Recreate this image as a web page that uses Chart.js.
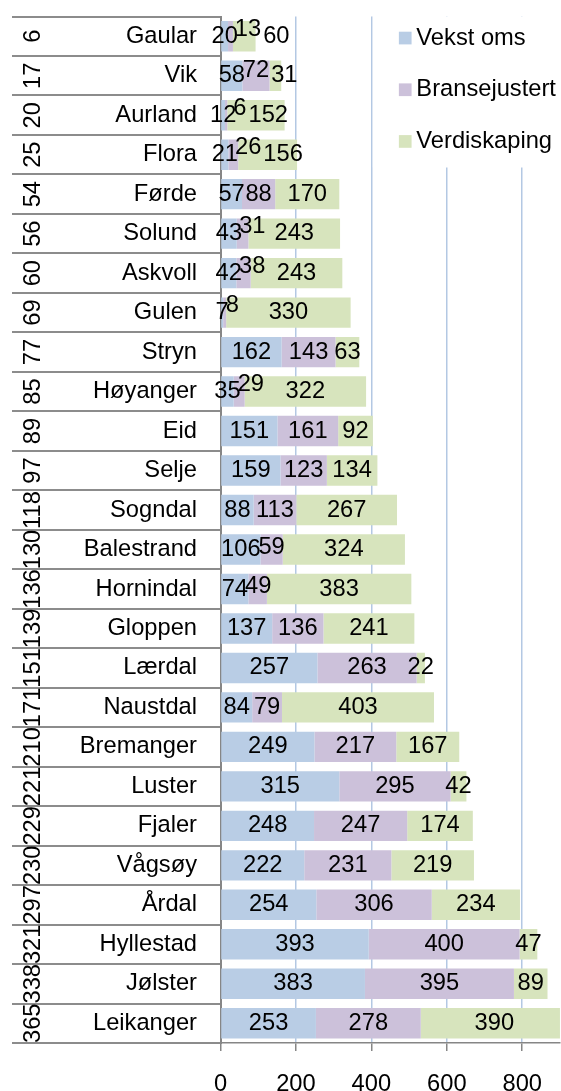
<!DOCTYPE html>
<html lang="no">

<head>
    <meta charset="UTF-8">
    <title>Kommuner - vekst, bransejustert og verdiskaping</title>
    <script src="https://cdn.jsdelivr.net/npm/chart.js@4.4.1/dist/chart.umd.min.js"></script>
    <style>
        html, body { margin: 0; padding: 0; background: #fff; }
        canvas { display: block; }
    </style>
</head>

<body>
    <canvas id="chart" width="561" height="1091"></canvas>
    <script>
        // Data, top row first
        const kommuner = ["Gaular", "Vik", "Aurland", "Flora", "Førde", "Solund", "Askvoll", "Gulen", "Stryn",
            "Høyanger", "Eid", "Selje", "Sogndal", "Balestrand", "Hornindal", "Gloppen", "Lærdal", "Naustdal",
            "Bremanger", "Luster", "Fjaler", "Vågsøy", "Årdal", "Hyllestad", "Jølster", "Leikanger"];
        const rangering = [6, 17, 20, 25, 54, 56, 60, 69, 77, 85, 89, 97, 118, 130, 136, 139, 151, 171,
            210, 221, 229, 230, 297, 321, 338, 365];
        const vekstOms = [20, 58, 12, 21, 57, 43, 42, 7, 162, 35, 151, 159, 88, 106, 74, 137, 257, 84,
            249, 315, 248, 222, 254, 393, 383, 253];
        const bransejustert = [13, 72, 6, 26, 88, 31, 38, 8, 143, 29, 161, 123, 113, 59, 49, 136, 263, 79,
            217, 295, 247, 231, 306, 400, 395, 278];
        const verdiskaping = [60, 31, 152, 156, 170, 243, 243, 330, 63, 322, 92, 134, 267, 324, 383, 241, 22, 403,
            167, 42, 174, 219, 234, 47, 89, 390];
        const xTicks = [0, 200, 400, 600, 800];

        const FONT = { family: "'Liberation Sans', Arial, sans-serif", size: 23.7 };
        const FONT_CSS = FONT.size + "px " + FONT.family;
        const GRAY = "#868686";

        // value labels inside the segments, nudged like Excel does when they collide
        const segmentLabels = {
            id: "segmentLabels",
            afterDatasetsDraw(chart) {
                const ctx = chart.ctx;
                ctx.save();
                ctx.font = FONT_CSS;
                ctx.fillStyle = "#000";
                ctx.textAlign = "center";
                ctx.textBaseline = "middle";
                const metas = chart.data.datasets.map((d, i) => chart.getDatasetMeta(i));
                kommuner.forEach((k, row) => {
                    const items = metas.map((meta, d) => {
                        const bar = meta.data[row];
                        const text = String(chart.data.datasets[d].data[row]);
                        return { bar, text, w: ctx.measureText(text).width, c: (bar.x + bar.base) / 2 };
                    });
                    let prevRight = -Infinity;
                    items.forEach((it, d) => {
                        let cx = Math.max(it.c, prevRight + it.w / 2 - 3);
                        let dy = 0;
                        if (d === 1) {
                            const next = items[2];
                            const overlap = Math.max(prevRight - (it.c - it.w / 2),
                                (it.c + it.w / 2) - (next.c - next.w / 2));
                            if (overlap > 0) dy = -Math.min(7, overlap * 0.7);
                        } else if (d === 2 && it.c < prevRight + it.w / 2) {
                            // crowded row: give the last label a bit more room
                            cx = prevRight + it.w / 2 + 2;
                        }
                        ctx.fillText(it.text, cx, it.bar.y + dy);
                        prevRight = cx + it.w / 2;
                    });
                });
                ctx.restore();
            }
        };

        // legend sits inside the plot, top right, on a white box
        const legendBox = {
            id: "legendBox",
            beforeDatasetsDraw(chart) {
                const { ctx, chartArea } = chart;
                const left = chart.scales.x.getPixelForValue(400) + 1.5;
                ctx.save();
                ctx.fillStyle = "#fff";
                ctx.fillRect(left, chartArea.top, chartArea.right - left, 151);
                ctx.font = FONT_CSS;
                ctx.textAlign = "left";
                ctx.textBaseline = "middle";
                chart.data.datasets.forEach((ds, i) => {
                    const y = chartArea.top + 21.5 + i * 51.7;
                    ctx.fillStyle = ds.backgroundColor;
                    ctx.fillRect(left + 26, y - 6.3, 12.7, 12.7);
                    ctx.fillStyle = "#000";
                    ctx.fillText(ds.label, left + 43.5, y);
                });
                ctx.restore();
            }
        };

        const ctx = document.getElementById("chart").getContext("2d");
        const myChart = new Chart(ctx, {
            type: "bar",
            data: {
                labels: kommuner,
                datasets: [
                    { label: "Vekst oms", data: vekstOms, backgroundColor: "#B9CDE5" },
                    { label: "Bransejustert", data: bransejustert, backgroundColor: "#CCC1DA" },
                    { label: "Verdiskaping", data: verdiskaping, backgroundColor: "#D7E4BD" }
                ]
            },
            options: {
                indexAxis: "y",
                responsive: false,
                animation: false,
                devicePixelRatio: 1,
                barPercentage: 0.77,
                categoryPercentage: 1,
                layout: { padding: { left: 12, top: 16.5, right: 0, bottom: 0 } },
                plugins: {
                    legend: { display: false },
                    tooltip: { enabled: false }
                },
                scales: {
                    x: {
                        stacked: true,
                        min: 0,
                        max: 900,
                        ticks: { font: FONT, color: "#000", padding: 19 },
                        grid: { color: "#B3C8E3", lineWidth: 1.5, tickColor: GRAY, tickLength: 8 },
                        border: { color: GRAY, width: 1.5 },
                        afterBuildTicks: s => { s.ticks = xTicks.map(v => ({ value: v })); },
                        afterFit: s => { s.height = 48; }
                    },
                    y: {
                        stacked: true,
                        position: "left",
                        weight: 0,
                        ticks: { autoSkip: false, font: FONT, color: "#000", padding: -127 },
                        grid: { offset: true, drawOnChartArea: false, color: "#8C8C8C", lineWidth: 2, tickLength: 150.5 },
                        border: { color: GRAY, width: 2 },
                        afterFit: s => { s.width = 150.5; }
                    },
                    y2: {
                        type: "category",
                        labels: rangering.map(String),
                        position: "left",
                        weight: 1,
                        offset: true,
                        ticks: {
                            autoSkip: false, font: FONT, color: "#000",
                            minRotation: 90, maxRotation: 90, crossAlign: "center", padding: -41
                        },
                        grid: { offset: true, drawOnChartArea: false, color: "#8C8C8C", lineWidth: 2, tickLength: 58 },
                        border: { display: false },
                        afterFit: s => { s.width = 58; }
                    }
                }
            },
            plugins: [legendBox, segmentLabels]
        });
    </script>
</body>

</html>
